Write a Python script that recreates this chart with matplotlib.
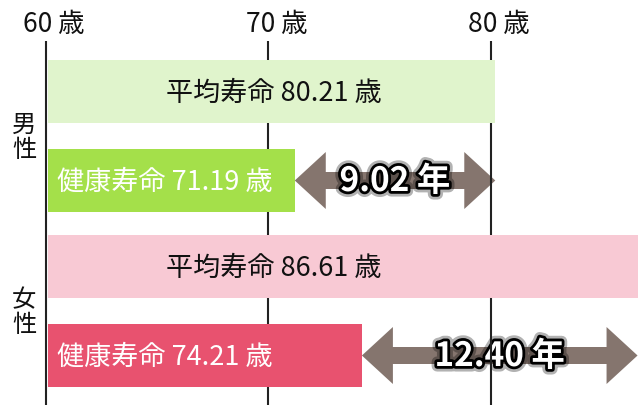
import matplotlib
matplotlib.use('Agg')
import matplotlib.pyplot as plt
import matplotlib.patheffects as pe
from matplotlib.transforms import offset_copy

plt.rcParams['font.family'] = ['Noto Sans CJK JP', 'DejaVu Sans']

# data
groups = ['男性', '女性']
avg_life = [80.21, 86.61]
healthy_life = [71.19, 74.21]
ticks = [60, 70, 80]

avg_colors = ['#e0f4cc', '#f8c9d4']
healthy_colors = ['#a4e04a', '#e8526f']
arrow_color = '#85756e'

# layout (y in pixels from top)
W, H = 640, 406
x_min, x_max = 57.93, 86.72
px_per_year = W / (x_max - x_min)
avg_rows = [92.5, 267.5]
healthy_rows = [181.5, 356.5]
bar_h = 63
bar_left = ticks[0] + 0.1

fig = plt.figure(figsize=(6.4, 4.06), dpi=100)
ax = fig.add_axes([0, 0, 1, 1])
ax.set_xlim(x_min, x_max)
ax.set_ylim(H, 0)
ax.axis('off')

# grid lines + tick labels
ax.vlines(ticks, 42, H, color='#222222', lw=1.5, zorder=2)
tick_tr = offset_copy(ax.transData, fig=fig, x=8, y=0, units='dots')
for t in ticks:
    ax.text(t, 24, f'{t} 歳', ha='center', va='center', fontsize=19,
            color='#111111', transform=tick_tr)

def double_arrow(x0, x1, yc):
    hl = 31 / px_per_year
    hw, sw = 28.5, 8.5
    xs = [x0, x0 + hl, x0 + hl, x1 - hl, x1 - hl, x1, x1 - hl, x1 - hl, x0 + hl, x0 + hl]
    ys = [yc, yc - hw, yc - sw, yc - sw, yc - hw, yc, yc + hw, yc + sw, yc + sw, yc + hw]
    ax.fill(xs, ys, color=arrow_color, lw=0, zorder=1)

avg_tr = offset_copy(ax.transData, fig=fig, x=118, y=0, units='dots')
hl_tr = offset_copy(ax.transData, fig=fig, x=9, y=0, units='dots')

for i, g in enumerate(groups):
    ax.barh(avg_rows[i], avg_life[i] - bar_left, left=bar_left, height=bar_h,
            color=avg_colors[i], zorder=3)
    ax.barh(healthy_rows[i], healthy_life[i] - bar_left, left=bar_left, height=bar_h,
            color=healthy_colors[i], zorder=3)
    ax.text(bar_left, avg_rows[i] + 1, f'平均寿命 {avg_life[i]:.2f} 歳', ha='left',
            va='center', fontsize=19.5, color='#111111', zorder=4, transform=avg_tr)
    ax.text(bar_left, healthy_rows[i] + 1, f'健康寿命 {healthy_life[i]:.2f} 歳', ha='left',
            va='center', fontsize=19.5, color='white', zorder=4, transform=hl_tr)

    # gap arrow
    double_arrow(healthy_life[i], avg_life[i], healthy_rows[i])
    gap = avg_life[i] - healthy_life[i]
    ax.text((healthy_life[i] + avg_life[i]) / 2, healthy_rows[i] + 1, f'{gap:.2f} 年',
            ha='center', va='center', fontsize=24, fontweight='bold', color='white',
            zorder=1.5,
            path_effects=[pe.withStroke(linewidth=8, foreground='black', alpha=0.3),
                          pe.withStroke(linewidth=4, foreground='black')])

    # group label, stacked vertically
    mid = (avg_rows[i] + healthy_rows[i]) / 2
    ax.text(0.0375, mid - 12, g[0], ha='center', va='center', fontsize=17.5,
            color='#111111', transform=ax.get_yaxis_transform())
    ax.text(0.0375, mid + 13, g[1], ha='center', va='center', fontsize=17.5,
            color='#111111', transform=ax.get_yaxis_transform())

fig.savefig('out.png', dpi=100)
